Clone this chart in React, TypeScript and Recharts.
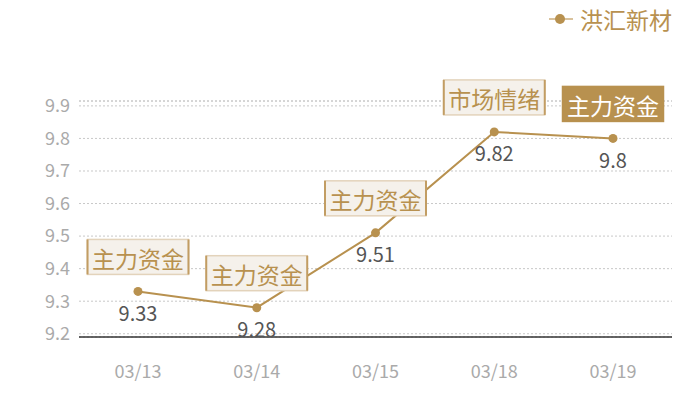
import React from "react";
import {
  LineChart, Line, XAxis, YAxis, CartesianGrid, ReferenceLine, LabelList, Legend,
} from "recharts";

const dates = ["03/13", "03/14", "03/15", "03/18", "03/19"];
const prices = [9.33, 9.28, 9.51, 9.82, 9.8];
const tags = ["主力资金", "主力资金", "主力资金", "市场情绪", "主力资金"];
const highlighted = [false, false, false, false, true];
const yTicks = [9.2, 9.3, 9.4, 9.5, 9.6, 9.7, 9.8, 9.9];

const data = dates.map((d, i) => ({ date: d, price: prices[i], tag: tags[i], hot: highlighted[i] }));

const GOLD = "#b8914f";
const FONT = "'Noto Sans CJK SC', 'Noto Sans', sans-serif";

function TagBox(props: any) {
  const { x, y, index } = props;
  const text = tags[index];
  const hot = highlighted[index];
  const w = 101;
  const h = 35;
  const left = x - w / 2;
  const top = y - 17 - h;
  return (
    <g>
      <rect x={left} y={top} width={w} height={h} fill={hot ? GOLD : "#f5f1eb"} stroke={hot ? GOLD : "#e3d3bb"} strokeWidth={1.5} />
      {!hot && (
        <>
          <line x1={left} x2={left} y1={top} y2={top + h} stroke="#c29d63" strokeWidth={2} />
          <line x1={left + w} x2={left + w} y1={top} y2={top + h} stroke="#c29d63" strokeWidth={2} />
        </>
      )}
      <text x={x} y={top + h / 2 + 1} textAnchor="middle" dominantBaseline="central"
        fontSize={23} fontFamily={FONT} fill={hot ? "#ffffff" : GOLD}>
        {text}
      </text>
    </g>
  );
}

function ValueLabel(props: any) {
  const { x, y, value } = props;
  return (
    <text x={x} y={y + 21} textAnchor="middle" dominantBaseline="central"
      fontSize={20} fontFamily={FONT} fill="#555555">
      {value}
    </text>
  );
}

function LegendContent() {
  return (
    <div style={{ display: "flex", alignItems: "center", fontFamily: FONT }}>
      <svg width={26} height={20}>
        <line x1={1} x2={25} y1={10} y2={10} stroke="#d9c29c" strokeWidth={2} />
        <circle cx={12} cy={10} r={5} fill={GOLD} />
      </svg>
      <span style={{ fontSize: 23, color: GOLD, marginLeft: 6 }}>洪汇新材</span>
    </div>
  );
}

export default function App() {
  return (
    <div style={{ position: "absolute", left: 0, top: 0 }}>
      <LineChart width={700} height={400} data={data}
        margin={{ top: 101, right: 28, bottom: 0, left: 0 }}>
        <CartesianGrid vertical={false} stroke="#c8c8c8" strokeDasharray="2 2" />
        <ReferenceLine y={9.915} stroke="#c8c8c8" strokeDasharray="2 2" />
        <XAxis dataKey="date" height={63} padding={{ left: 59, right: 59 }}
          axisLine={{ stroke: "#333333", strokeWidth: 1.5 }} tickLine={false}
          tick={{ fontSize: 18, fill: "#aaaaaa", fontFamily: FONT }} tickMargin={22} />
        <YAxis width={79} domain={[9.19, 9.915]} ticks={yTicks} allowDataOverflow
          axisLine={false} tickLine={false} tickMargin={3}
          tick={{ fontSize: 18, fill: "#aaaaaa", fontFamily: FONT }} />
        <Legend layout="vertical" align="center" verticalAlign="middle"
          wrapperStyle={{ top: 2, left: 548, width: 150 }} content={<LegendContent />} />
        <Line dataKey="price" name="洪汇新材" stroke={GOLD} strokeWidth={2}
          dot={{ r: 4.5, fill: GOLD, stroke: GOLD, strokeWidth: 0 }} isAnimationActive={false}>
          <LabelList dataKey="price" content={<ValueLabel />} />
          <LabelList dataKey="tag" content={<TagBox />} />
        </Line>
      </LineChart>
    </div>
  );
}
